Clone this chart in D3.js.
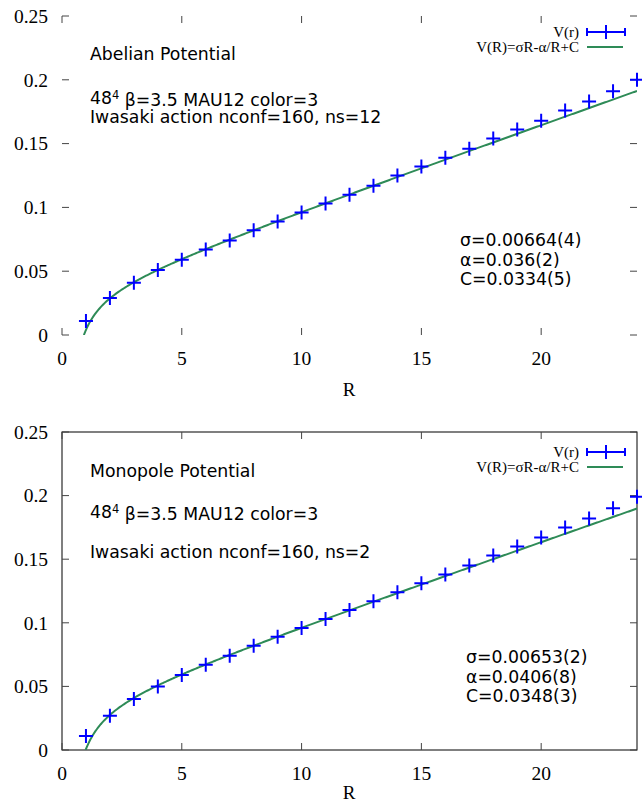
<!DOCTYPE html>
<html><head><meta charset="utf-8">
<script src="https://cdn.jsdelivr.net/npm/d3@7"></script>
<style>body{margin:0;background:#fff;} svg{display:block;}</style>
</head><body>
<svg id="c" width="642" height="804"></svg>
<script>
const R = d3.range(1, 25);
const abelianV = [0.011,0.029,0.041,0.051,0.059,0.067,0.074,0.082,0.089,0.096,0.103,0.110,0.117,0.125,0.132,0.139,0.146,0.154,0.161,0.168,0.176,0.183,0.191,0.200];
const monopoleV = [0.011,0.027,0.040,0.050,0.059,0.067,0.074,0.082,0.089,0.096,0.103,0.110,0.117,0.124,0.131,0.138,0.145,0.153,0.160,0.167,0.175,0.182,0.190,0.199];
const abelianFit = {sigma:0.00664, alpha:0.036, C:0.0334};
const monopoleFit = {sigma:0.00653, alpha:0.0406, C:0.0348};
const xTicks = [0,5,10,15,20];
const yTicks = [0,0.05,0.1,0.15,0.2,0.25];
const legendLabels = ["V(r)", "V(R)=σR-α/R+C"];

const svg = d3.select("#c");
const BLUE = "#0000ff", GREEN = "#2e8b57";
const serif = "'Liberation Serif','Times New Roman',serif";
const sans = "'DejaVu Sans',Verdana,sans-serif";
const FS = 17.3;

function panel(cfg){
  const g = svg.append("g");
  const x = d3.scaleLinear().domain([0,24]).range([62,637]);
  const y = d3.scaleLinear().domain([0,0.25]).range([cfg.y0, cfg.y1]);
  const tl = 7;
  if (cfg.border){
    g.append("rect").attr("x",62).attr("y",cfg.y1).attr("width",575).attr("height",cfg.y0-cfg.y1)
      .attr("fill","none").attr("stroke","#000").attr("stroke-width",1);
  }
  yTicks.forEach(t=>{
    g.append("line").attr("x1",62).attr("x2",62+tl).attr("y1",y(t)).attr("y2",y(t)).attr("stroke","#444");
    g.append("line").attr("x1",637).attr("x2",637-tl).attr("y1",y(t)).attr("y2",y(t)).attr("stroke","#444");
    g.append("text").attr("x",48).attr("y",y(t)).attr("dy","0.35em").attr("text-anchor","end")
      .attr("font-family",serif).attr("font-size",19.5).text(d3.format("")(t));
  });
  xTicks.forEach(t=>{
    g.append("line").attr("x1",x(t)).attr("x2",x(t)).attr("y1",cfg.y0).attr("y2",cfg.y0-tl).attr("stroke","#444");
    g.append("line").attr("x1",x(t)).attr("x2",x(t)).attr("y1",cfg.y1).attr("y2",cfg.y1+tl).attr("stroke","#444");
    g.append("text").attr("x",x(t)).attr("y",cfg.y0+23).attr("dy","0.35em").attr("text-anchor","middle")
      .attr("font-family",serif).attr("font-size",19.5).text(t);
  });
  g.append("text").attr("x",349).attr("y",cfg.xlabY).attr("dy","0.35em").attr("text-anchor","middle")
    .attr("font-family",serif).attr("font-size",19).text("R");

  const f = cfg.fit;
  const rz = (-f.C + Math.sqrt(f.C*f.C + 4*f.sigma*f.alpha))/(2*f.sigma);
  const pts = d3.range(0,401).map(i=> rz + (24-rz)*i/400).map(r=>[r, f.sigma*r - f.alpha/r + f.C]);
  const clipId = "clip"+cfg.id;
  g.append("clipPath").attr("id",clipId).append("rect").attr("x",62).attr("y",cfg.y1).attr("width",575).attr("height",cfg.y0-cfg.y1);
  g.append("path").datum(pts).attr("clip-path",`url(#${clipId})`)
    .attr("d",d3.line().x(d=>x(d[0])).y(d=>y(d[1])))
    .attr("fill","none").attr("stroke",GREEN).attr("stroke-width",2);

  const s = 7;
  cfg.data.forEach((v,i)=>{
    const cx = x(R[i]), cy = y(v);
    g.append("path").attr("d",`M${cx-s},${cy}H${cx+s}M${cx},${cy-s}V${cy+s}`)
      .attr("stroke",BLUE).attr("stroke-width",2).attr("fill","none");
  });

  const lx = 579;
  g.append("text").attr("x",lx).attr("y",cfg.legY).attr("dy","0.35em").attr("text-anchor","end")
    .attr("font-family",serif).attr("font-size",15).text(legendLabels[0]);
  g.append("path").attr("d",`M587,${cfg.legY}H625M587,${cfg.legY-4}V${cfg.legY+4}M625,${cfg.legY-4}V${cfg.legY+4}M606,${cfg.legY-7}V${cfg.legY+7}`)
    .attr("stroke",BLUE).attr("stroke-width",2).attr("fill","none");
  g.append("text").attr("x",lx).attr("y",cfg.legY+15).attr("dy","0.35em").attr("text-anchor","end")
    .attr("font-family",serif).attr("font-size",15).text(legendLabels[1]);
  g.append("line").attr("x1",587).attr("x2",623).attr("y1",cfg.legY+15).attr("y2",cfg.legY+15)
    .attr("stroke",GREEN).attr("stroke-width",2);

  const at = (xx,yy,txt)=> g.append("text").attr("x",xx).attr("y",yy).attr("dy","0.35em")
    .attr("font-family",sans).attr("font-size",FS).attr("fill","#000").text(txt);
  at(90, cfg.t1, cfg.title);
  const t2 = g.append("text").attr("x",90).attr("y",cfg.t2).attr("dy","0.35em")
    .attr("font-family",sans).attr("font-size",FS);
  t2.append("tspan").text("48");
  t2.append("tspan").attr("dy","-0.4em").attr("font-size",11.5).text("4");
  t2.append("tspan").attr("dy","0.4em").text(" β=3.5 MAU12 color=3");
  at(90, cfg.t3, cfg.line3);
  cfg.params.forEach((p,i)=> at(cfg.px, cfg.py + i*19.5, p));
}

panel({id:"a", y0:335, y1:16, border:false, xlabY:389, data:abelianV, fit:abelianFit, legY:32,
  title:"Abelian Potential", line3:"Iwasaki action nconf=160, ns=12", t1:54, t2:98, t3:117,
  params:["σ=0.00664(4)","α=0.036(2)","C=0.0334(5)"], px:460, py:240});
panel({id:"b", y0:750, y1:432, border:true, xlabY:792, data:monopoleV, fit:monopoleFit, legY:452,
  title:"Monopole Potential", line3:"Iwasaki action nconf=160, ns=2", t1:471, t2:512, t3:552,
  params:["σ=0.00653(2)","α=0.0406(8)","C=0.0348(3)"], px:466, py:657});
</script>
</body></html>
